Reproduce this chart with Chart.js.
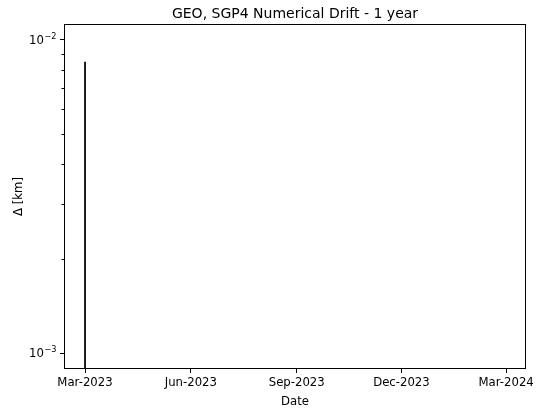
<!DOCTYPE html>
<html>
<head>
<meta charset="utf-8">
<script src="https://cdn.jsdelivr.net/npm/chart.js@4/dist/chart.umd.min.js"></script>
<style>
  html, body { margin: 0; padding: 0; background: #fff; }
  #wrap { width: 538px; height: 413px; }
</style>
</head>
<body>
<div id="wrap"><canvas id="c" width="538" height="413"></canvas></div>
<script>
// Propagation samples (UTC) and position difference between the two runs, km
const sampleTimes = ['2023-03-01T00:00:00Z', '2023-03-01T01:00:00Z', '2024-02-29T00:00:00Z'];
const driftKm = [0.0085, 0, 0];

// X axis ticks
const tickDates = ['2023-03-01T00:00:00Z', '2023-06-01T00:00:00Z', '2023-09-01T00:00:00Z', '2023-12-01T00:00:00Z', '2024-03-01T00:00:00Z'];
const tickLabels = ['Mar-2023', 'Jun-2023', 'Sep-2023', 'Dec-2023', 'Mar-2024'];

// Y axis ticks (log scale): value and exponent text
const yMajorTicks = [1e-3, 1e-2];
const yMajorExponents = ['\u22123', '\u22122'];
const yMinorTicks = [2e-3, 3e-3, 4e-3, 5e-3, 6e-3, 7e-3, 8e-3, 9e-3];

const TITLE = 'GEO, SGP4 Numerical Drift - 1 year';

// A log axis cannot show zero; such samples are pushed far below the visible range
const LOG_FLOOR = 1e-12;

const FONT = 'DejaVu Sans';
const TICK_SIZE = 11.7;
const TITLE_SIZE = 14;
const times = sampleTimes.map(s => Date.parse(s));
const span = times[times.length - 1] - times[0];
const xMin = times[0] - 0.05 * span;
const xMax = times[times.length - 1] + 0.05 * span;

const points = times.map((t, i) => ({ x: t, y: driftKm[i] > 0 ? driftKm[i] : LOG_FLOOR }));

// Frame, title centred over the plot, minor ticks and power-of-ten labels on the log axis
const framePlugin = {
  id: 'frame',
  afterDraw(chart) {
    const { ctx, chartArea: a } = chart;
    const y = chart.scales.y;
    ctx.save();
    ctx.strokeStyle = '#000';
    ctx.lineWidth = 1;
    ctx.strokeRect(Math.round(a.left) + 0.5, Math.round(a.top) + 0.5,
                   Math.round(a.right - a.left) - 1, Math.round(a.bottom - a.top) - 1);
    ctx.beginPath();
    yMinorTicks.forEach(v => {
      const py = Math.round(y.getPixelForValue(v)) + 0.5;
      ctx.moveTo(a.left - 2.5, py);
      ctx.lineTo(a.left, py);
    });
    ctx.stroke();

    ctx.fillStyle = '#000';
    ctx.textBaseline = 'alphabetic';

    ctx.textAlign = 'center';
    ctx.font = TITLE_SIZE + 'px "' + FONT + '"';
    ctx.fillText(TITLE, (a.left + a.right) / 2, a.top - 6.5);

    ctx.textAlign = 'left';
    const baseFont = TICK_SIZE + 'px "' + FONT + '"';
    const expFont = (TICK_SIZE * 0.7).toFixed(2) + 'px "' + FONT + '"';
    yMajorTicks.forEach((v, i) => {
      const py = y.getPixelForValue(v);
      ctx.font = expFont;
      const wExp = ctx.measureText(yMajorExponents[i]).width;
      ctx.font = baseFont;
      const wBase = ctx.measureText('10').width;
      const right = a.left - 4 - 4;
      const x0 = right - wExp - wBase;
      const base = py + 4.2;
      ctx.fillText('10', x0, base);
      ctx.font = expFont;
      ctx.fillText(yMajorExponents[i], x0 + wBase + 0.5, base - 5);
    });
    ctx.restore();
  }
};

new Chart(document.getElementById('c'), {
  type: 'line',
  data: {
    datasets: [{
      data: points,
      borderColor: '#000',
      borderWidth: 1.7,
      pointRadius: 0,
      tension: 0,
      clip: 0
    }]
  },
  options: {
    responsive: false,
    animation: false,
    devicePixelRatio: 1,
    layout: { padding: { left: 0, right: 12, top: 24, bottom: 0 } },
    plugins: {
      legend: { display: false },
      tooltip: { enabled: false },
      title: { display: false }
    },
    scales: {
      x: {
        type: 'linear',
        min: xMin,
        max: xMax,
        afterBuildTicks(scale) {
          scale.ticks = tickDates.map(d => ({ value: Date.parse(d) }));
        },
        afterFit(scale) { scale.height = 44; },
        grid: { display: true, drawOnChartArea: false, drawTicks: true, tickLength: 4, color: '#000', lineWidth: 1 },
        border: { display: false },
        ticks: {
          autoSkip: false,
          maxRotation: 0,
          padding: 3,
          color: '#000',
          font: { family: FONT, size: TICK_SIZE },
          callback: (v, i) => tickLabels[i]
        },
        title: {
          display: true,
          text: 'Date',
          color: '#000',
          font: { family: FONT, size: TICK_SIZE },
          padding: { top: 2, bottom: 4 }
        }
      },
      y: {
        type: 'logarithmic',
        min: 0.000891,
        max: 0.01122,
        afterBuildTicks(scale) {
          scale.ticks = yMajorTicks.map(v => ({ value: v }));
        },
        afterFit(scale) { scale.width = 64; },
        grid: { display: true, drawOnChartArea: false, drawTicks: true, tickLength: 4, color: '#000', lineWidth: 1 },
        border: { display: false },
        ticks: {
          autoSkip: false,
          padding: 3,
          color: '#000',
          font: { family: FONT, size: TICK_SIZE },
          callback: () => ''
        },
        title: {
          display: true,
          text: '\u0394 [km]',
          color: '#000',
          font: { family: FONT, size: TICK_SIZE },
          padding: { top: 12, bottom: 0 }
        }
      }
    }
  },
  plugins: [framePlugin]
});
</script>
</body>
</html>
